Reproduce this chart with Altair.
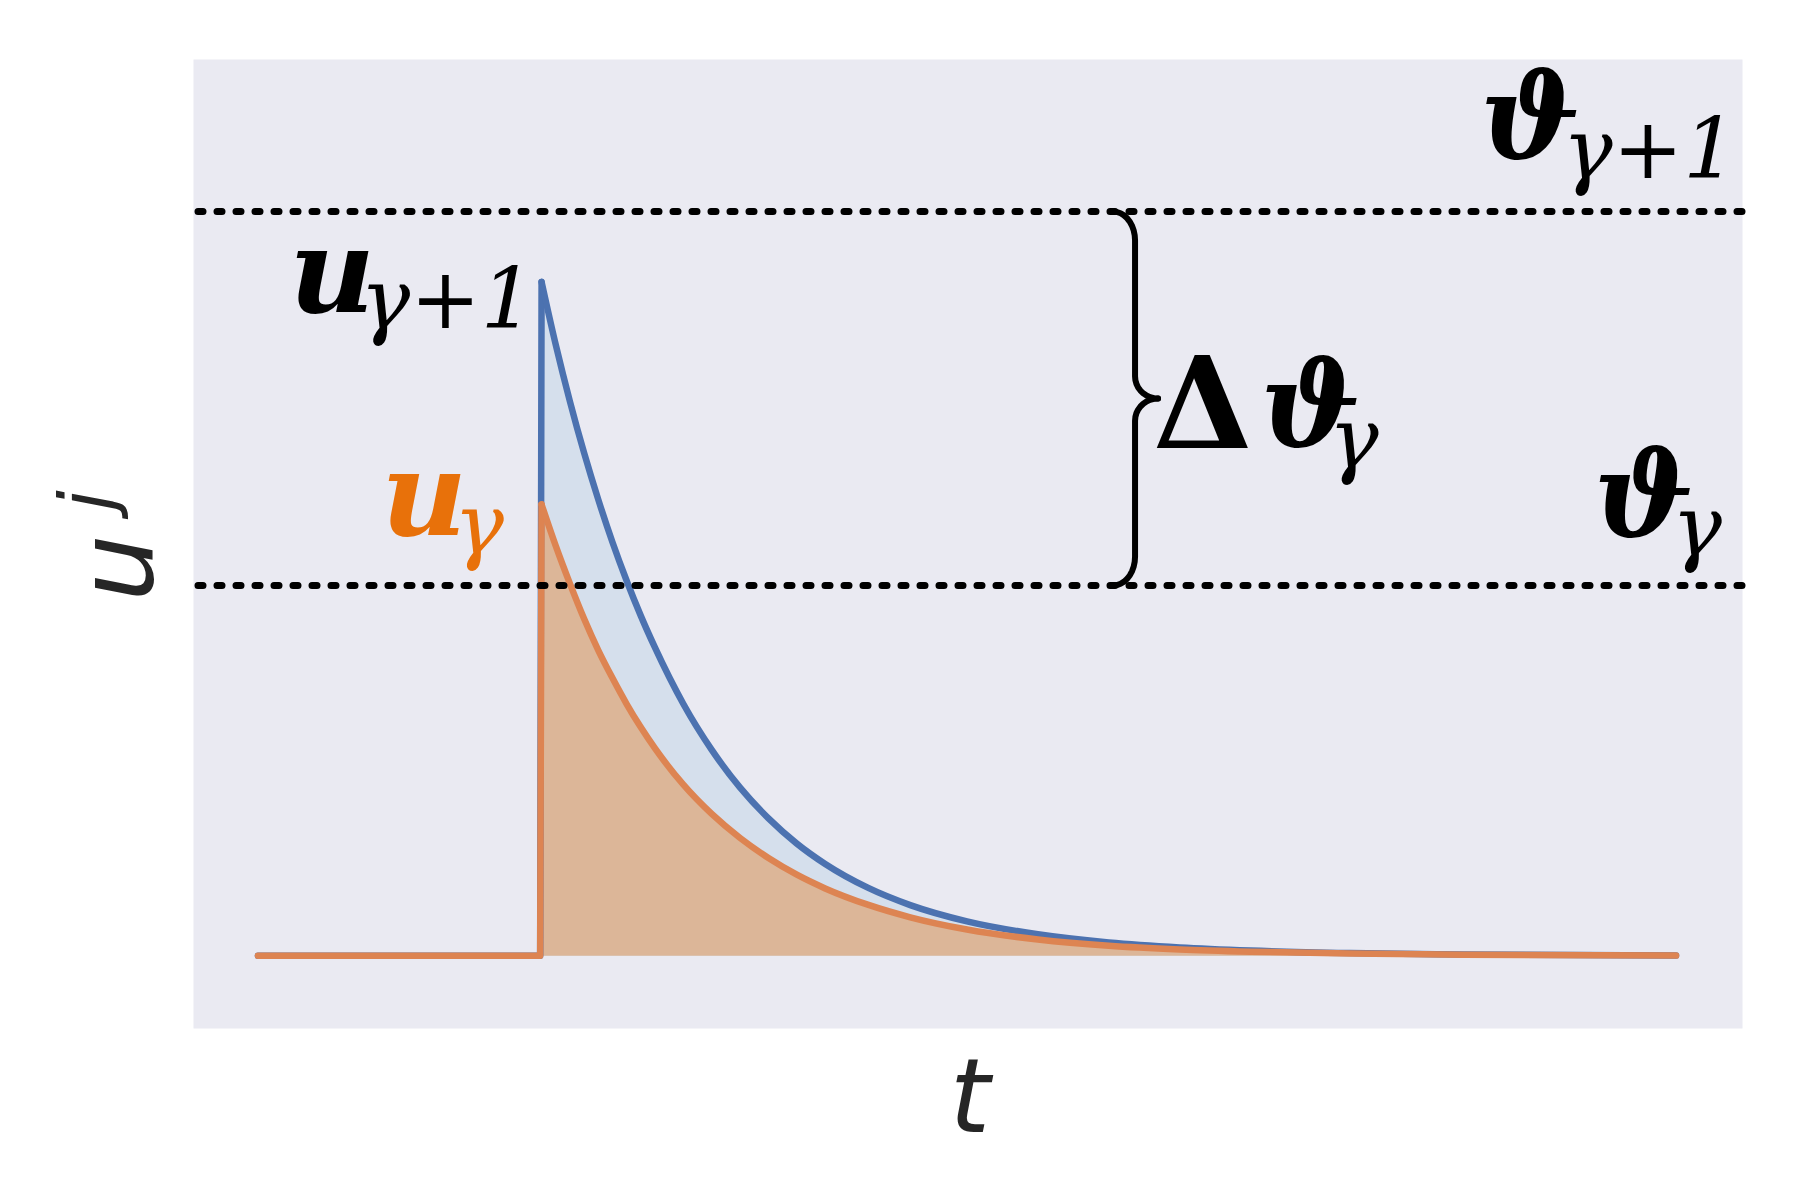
import math
import altair as alt
import pandas as pd

# ---------------- data ----------------
pre_t = [0.0, 19.9, 20.0]
pre_u_blue = [0.0, 0.0, 1.82]
pre_u_orange = [0.0, 0.0, 1.219]

blue_t = [20, 21, 22, 23, 24, 25, 26, 27, 28, 30, 32, 34, 36, 38, 40, 43, 46,
          50, 55, 60, 65, 70, 77, 85, 100]
blue_u = [1.82, 1.65, 1.497, 1.358, 1.232, 1.117, 1.013, 0.918, 0.832, 0.680,
          0.556, 0.454, 0.371, 0.303, 0.248, 0.184, 0.137, 0.093, 0.058, 0.036,
          0.0225, 0.0142, 0.0075, 0.0036, 0.0008]

orange_t = [20, 21, 22, 23, 24, 25, 26, 27, 28, 30, 32, 34, 36, 38, 40, 43, 46,
            50, 55, 60, 65, 70, 77, 85, 100]
orange_u = [1.219, 1.107, 1.005, 0.91, 0.825, 0.75, 0.68, 0.617, 0.56, 0.462,
            0.383, 0.318, 0.264, 0.219, 0.182, 0.138, 0.104, 0.071, 0.044,
            0.027, 0.017, 0.011, 0.006, 0.003, 0.0005]

thresholds = [1.0, 2.01]

# annotation labels
main_text = ["ϑ", "ϑ", "ϑ", "u", "u"]
main_t = [86.2, 94.2, 70.7, 2.2, 8.7]
main_u = [2.154, 1.134, 1.377, 1.739, 1.136]
main_col = ["#000000", "#000000", "#000000", "#000000", "#e8710a"]

sub_text = ["γ+1", "γ", "γ", "γ+1", "γ"]
sub_t = [92.0, 99.7, 75.5, 7.2, 13.8]
sub_u = [2.100, 1.082, 1.320, 1.695, 1.088]
sub_col = ["#000000", "#000000", "#000000", "#000000", "#e8710a"]

delta_text = ["Δ"]
delta_t = [63.12]
delta_u = [1.371]

# ---------------- brace geometry (between the two thresholds) ----------------
tip_t, stem_t, cusp_t = 60.3, 61.85, 63.47
r_end_u, r_mid_u = 0.078, 0.06
lo, hi = thresholds
mid = (lo + hi) / 2


def brace_half(sign):
    # sign=+1 upper half (from hi down to mid), -1 lower half (from lo up to mid)
    end_u = hi if sign > 0 else lo
    pts = []
    cu = end_u - sign * r_end_u
    for a in range(90, -1, -10):
        r = math.radians(a)
        pts.append((tip_t + (stem_t - tip_t) * math.cos(r), cu + sign * r_end_u * math.sin(r)))
    cu2 = mid + sign * r_mid_u
    for a in range(180, 271, 10):
        r = math.radians(a)
        pts.append((cusp_t + (cusp_t - stem_t) * math.cos(r), cu2 - sign * r_mid_u * math.sin(r) * -1))
    return pts


rows = []
for half, sgn in (("upper", 1), ("lower", -1)):
    for i, (bt, bu) in enumerate(brace_half(sgn)):
        rows.append({"t": bt, "u": bu, "i": i, "half": half})
brace_df = pd.DataFrame(rows)

# ---------------- chart ----------------
W, H = 1549, 969
T_DOMAIN = [-4.58, 104.65]
U_DOMAIN = [-0.195, 2.422]

xs = alt.Scale(domain=T_DOMAIN, nice=False, zero=False)
ys = alt.Scale(domain=U_DOMAIN, nice=False, zero=False)
X = alt.X("t:Q", scale=xs, axis=None)
Y = alt.Y("u:Q", scale=ys, axis=None)

BLUE = "#4c72b0"
ORANGE = "#dd8452"

blue_df = pd.DataFrame({"t": blue_t, "u": blue_u})
orange_df = pd.DataFrame({"t": orange_t, "u": orange_u})
pre_blue_df = pd.DataFrame({"t": pre_t, "u": pre_u_blue})
pre_orange_df = pd.DataFrame({"t": pre_t, "u": pre_u_orange})

blue_area = alt.Chart(blue_df).mark_area(color="#d5dfec", interpolate="monotone").encode(
    x=X, y=Y, y2=alt.datum(0))
orange_area = alt.Chart(orange_df).mark_area(color="#dcb698", interpolate="monotone").encode(
    x=X, y=Y, y2=alt.datum(0))

line_kw = dict(strokeWidth=6.5, strokeCap="round", strokeJoin="round")
blue_pre = alt.Chart(pre_blue_df).mark_line(color=BLUE, **line_kw).encode(x=X, y=Y)
blue_line = alt.Chart(blue_df).mark_line(color=BLUE, interpolate="monotone", **line_kw).encode(x=X, y=Y)
orange_pre = alt.Chart(pre_orange_df).mark_line(color=ORANGE, **line_kw).encode(x=X, y=Y)
orange_line = alt.Chart(orange_df).mark_line(color=ORANGE, interpolate="monotone", **line_kw).encode(x=X, y=Y)

rules = alt.Chart(pd.DataFrame({"u": thresholds})).mark_rule(
    color="black", strokeWidth=7, strokeDash=[5, 14], strokeCap="round").encode(y=Y)

brace = alt.Chart(brace_df).mark_line(
    color="black", strokeWidth=6, strokeCap="round", strokeJoin="round").encode(
    x=X, y=Y, order="i:Q", detail="half:N")

main_df = pd.DataFrame({"t": main_t, "u": main_u, "txt": main_text, "c": main_col})
main_lbl = alt.Chart(main_df).mark_text(
    font="DejaVu Serif", fontStyle="italic", fontWeight="bold", fontSize=118,
    align="left", baseline="alphabetic").encode(
    x=X, y=Y, text="txt:N", color=alt.Color("c:N", scale=None))

sub_df = pd.DataFrame({"t": sub_t, "u": sub_u, "txt": sub_text, "c": sub_col})
sub_lbl = alt.Chart(sub_df).mark_text(
    font="DejaVu Serif", fontStyle="italic", fontSize=84,
    align="left", baseline="alphabetic").encode(
    x=X, y=Y, text="txt:N", color=alt.Color("c:N", scale=None))

delta_df = pd.DataFrame({"t": delta_t, "u": delta_u, "txt": delta_text})
delta_lbl = alt.Chart(delta_df).mark_text(
    font="DejaVu Serif", fontWeight="bold", fontSize=128, color="black",
    align="left", baseline="alphabetic").encode(x=X, y=Y, text="txt:N")

one = pd.DataFrame({"a": [0]})
x_title = alt.Chart(one).mark_text(
    text="t", font="DejaVu Sans", fontStyle="italic", fontSize=103, color="#262626",
    align="center", baseline="alphabetic").encode(x=alt.value(777), y=alt.value(1073))
y_title_u = alt.Chart(one).mark_text(
    text="u", font="DejaVu Sans", fontStyle="italic", fontSize=106, color="#262626",
    angle=270, align="center", baseline="alphabetic").encode(x=alt.value(-40), y=alt.value(509))
y_title_j = alt.Chart(one).mark_text(
    text="j", font="DejaVu Sans", fontStyle="italic", fontSize=74, color="#262626",
    angle=270, align="left", baseline="alphabetic").encode(x=alt.value(-80), y=alt.value(452))

chart = alt.layer(
    blue_area, orange_area, blue_pre, blue_line, orange_pre, orange_line,
    rules, brace, main_lbl, sub_lbl, delta_lbl, x_title, y_title_u, y_title_j
).properties(
    width=W, height=H,
    padding={"left": 185, "top": 51, "right": 50, "bottom": 170},
    autosize=alt.AutoSizeParams(type="none"),
).configure_view(fill="#EAEAF2", stroke="transparent")

chart.save("out.html", embed_options={"renderer": "svg", "actions": False})
